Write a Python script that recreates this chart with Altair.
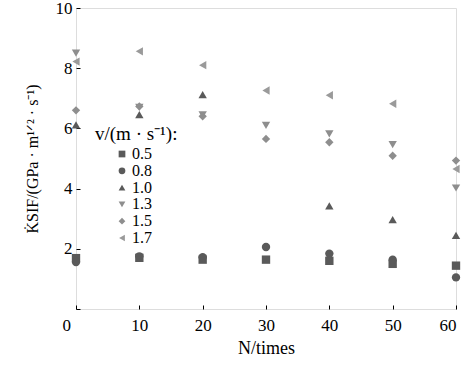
import altair as alt
import pandas as pd

N = [0, 10, 20, 30, 40, 50, 60]
speeds = ["0.5", "0.8", "1.0", "1.3", "1.5", "1.7"]
k_05 = [1.69, 1.70, 1.64, 1.64, 1.60, 1.50, 1.44]
k_08 = [1.56, 1.75, 1.72, 2.06, 1.84, 1.64, 1.05]
k_10 = [6.12, 6.46, 7.12, None, 3.43, 2.97, 2.45]
k_13 = [8.50, 6.70, 6.45, 6.10, 5.82, 5.46, 4.02]
k_15 = [6.60, 6.73, 6.40, 5.65, 5.54, 5.09, 4.93]
k_17 = [8.22, 8.56, 8.10, 7.26, 7.10, 6.82, 4.65]

shapes = ["square", "circle", "triangle-up", "triangle-down", "diamond", "triangle-left"]
colors = ["#5a5a5a", "#5a5a5a", "#5a5a5a", "#8e8e8e", "#8e8e8e", "#9a9a9a"]

rows = []
for s, vals in zip(speeds, [k_05, k_08, k_10, k_13, k_15, k_17]):
    for n, v in zip(N, vals):
        if v is not None:
            rows.append({"N": n, "K": v, "v": s})
df = pd.DataFrame(rows)
leg_df = pd.DataFrame({"v": speeds, "idx": list(range(len(speeds)))})

FONT = "Liberation Serif"

shape_enc = alt.Shape("v:N", scale=alt.Scale(domain=speeds, range=shapes), legend=None)
color_enc = alt.Color("v:N", scale=alt.Scale(domain=speeds, range=colors), legend=None)

points = alt.Chart(df).mark_point(filled=True, size=70, opacity=1).encode(
    x=alt.X("N:Q", scale=alt.Scale(domain=[0, 60], nice=False),
            axis=alt.Axis(values=N, title="N/times", domain=False, offset=-4, tickSize=4,
                          tickColor="black", grid=False, labelPadding=8,
                          labelOffset={"condition": {"test": "datum.value == 0", "value": -14}, "value": 0},
                          labelFont=FONT, labelFontSize=17, labelColor="black",
                          titleFont=FONT, titleFontSize=18, titleFontWeight="normal",
                          titleColor="black", titlePadding=6)),
    y=alt.Y("K:Q", scale=alt.Scale(domain=[0, 10], nice=False),
            axis=alt.Axis(values=[0, 2, 4, 6, 8, 10], title="K̇SIF/(GPa · m¹ᐟ² · s⁻¹)",
                          domain=False, offset=-4, tickSize=4, tickColor="black", grid=False,
                          labelExpr="datum.value == 0 ? '' : datum.label", labelPadding=4,
                          labelFont=FONT, labelFontSize=17, labelColor="black",
                          titleFont=FONT, titleFontSize=16, titleFontWeight="normal",
                          titleColor="black", titlePadding=15)),
    shape=shape_enc,
    color=color_enc,
)

leg_y = alt.Y("idx:Q", scale=alt.Scale(domain=[0, 5], range=[146, 230]), axis=None)

leg_symbols = alt.Chart(leg_df).mark_point(filled=True, size=45, opacity=1).encode(
    x=alt.value(46), y=leg_y, shape=shape_enc, color=color_enc
)
leg_labels = alt.Chart(leg_df).mark_text(
    font=FONT, fontSize=16, align="left", baseline="middle", color="black"
).encode(x=alt.value(56), y=leg_y, text="v:N")

title_df = pd.DataFrame({"t": ["v/(m · s⁻¹):"]})
legend_title = alt.Chart(title_df).mark_text(
    font=FONT, fontSize=19, align="left", baseline="alphabetic", color="black"
).encode(text="t:N", x=alt.value(19), y=alt.value(132))

chart = alt.layer(points, leg_symbols, leg_labels, legend_title).resolve_scale(
    y="independent"
).properties(
    width=380, height=301,
    autosize=alt.AutoSizeParams(type="none"),
    padding={"left": 76, "top": 8, "right": 15, "bottom": 59},
).configure_view(stroke="black", strokeWidth=1).configure(background="white", font=FONT)

chart.save("out.html", embed_options={"renderer": "svg", "actions": False})
